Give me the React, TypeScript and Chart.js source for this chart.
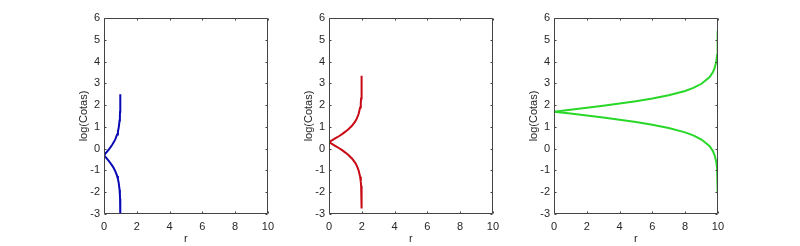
import React, { useEffect, useRef } from "react";
import { Chart, registerables } from "chart.js";

Chart.register(...registerables);

// Plot 1 (blue)
const r1 = [0, 0.1, 0.2, 0.3, 0.4, 0.5, 0.6, 0.7, 0.8, 0.85, 0.9, 0.95, 0.97, 0.98, 0.99, 0.995, 0.997];
const upper1 = [-0.30, -0.21, -0.12, -0.03, 0.07, 0.18, 0.30, 0.45, 0.65, 0.79, 0.98, 1.29, 1.52, 1.70, 2.00, 2.30, 2.50];
const lower1 = [-0.30, -0.39, -0.48, -0.57, -0.67, -0.78, -0.90, -1.05, -1.25, -1.39, -1.58, -1.89, -2.12, -2.30, -2.60, -2.90, -3.10];

// Plot 2 (red)
const r2 = [0, 0.2, 0.4, 0.6, 0.8, 1.0, 1.2, 1.4, 1.6, 1.7, 1.8, 1.9, 1.94, 1.96, 1.98, 1.99, 1.996];
const upper2 = [0.30, 0.39, 0.48, 0.57, 0.67, 0.78, 0.90, 1.05, 1.25, 1.39, 1.58, 1.89, 2.12, 2.30, 2.60, 2.90, 3.35];
const lower2 = [0.30, 0.21, 0.12, 0.03, -0.07, -0.18, -0.30, -0.45, -0.65, -0.79, -0.98, -1.29, -1.52, -1.70, -2.00, -2.30, -2.75];

// Plot 3 (green)
const r3 = [0, 1, 2, 3, 4, 5, 6, 7, 8, 8.5, 9, 9.5, 9.7, 9.8, 9.9, 9.95, 9.97, 9.98, 9.99, 9.996];
const upper3 = [1.70, 1.79, 1.88, 1.97, 2.07, 2.18, 2.30, 2.45, 2.65, 2.79, 2.98, 3.29, 3.52, 3.70, 4.00, 4.30, 4.52, 4.70, 5.00, 5.40];
const lower3 = [1.70, 1.61, 1.52, 1.43, 1.33, 1.22, 1.10, 0.95, 0.75, 0.61, 0.42, 0.11, -0.12, -0.30, -0.60, -0.90, -1.12, -1.30, -1.60, -2.00];

const xTicks = [0, 2, 4, 6, 8, 10];
const yTicks = [-3, -2, -1, 0, 1, 2, 3, 4, 5, 6];
const xLabel = "r";
const yLabel = "log(Cotas)";

const FONT = "'Liberation Sans', Arial, Helvetica, sans-serif";
const FS = 11;
const TEXT = "#262626";
const AXIS = "#444444";

const Y_W = 50; // px left of plot area inside canvas
const X_H = 32; // px below plot area
const PLOT_W = 170;
const RIGHT_PAD = 6;
const TOP = 18;

const framePlugin = {
  id: "frameTicks",
  afterDraw(chart: any) {
    const { ctx, chartArea } = chart;
    const { left, right, top, bottom } = chartArea;
    const xs = chart.scales.x;
    const ys = chart.scales.y;
    ctx.save();
    ctx.strokeStyle = AXIS;
    ctx.lineWidth = 1;
    const l = Math.round(left) + 0.5;
    const r = Math.round(right) - 0.5;
    const t = Math.round(top) + 0.5;
    const b = Math.round(bottom) - 0.5;
    ctx.beginPath();
    ctx.rect(l, t, r - l, b - t);
    const tl = 2;
    xTicks.forEach((v) => {
      const px = Math.round(xs.getPixelForValue(v)) + 0.5;
      ctx.moveTo(px, b);
      ctx.lineTo(px, b - tl);
      ctx.moveTo(px, t);
      ctx.lineTo(px, t + tl);
    });
    yTicks.forEach((v) => {
      const py = Math.round(ys.getPixelForValue(v)) + 0.5;
      ctx.moveTo(l, py);
      ctx.lineTo(l + tl, py);
      ctx.moveTo(r, py);
      ctx.lineTo(r - tl, py);
    });
    ctx.stroke();
    ctx.restore();
  },
};

function toPts(xs: number[], ys: number[]) {
  return xs.map((x, i) => ({ x, y: ys[i] }));
}

type SubProps = {
  left: number;
  rs: number[];
  up: number[];
  lo: number[];
  color: string;
};

function SubPlot({ left, rs, up, lo, color }: SubProps) {
  const ref = useRef<HTMLCanvasElement | null>(null);
  useEffect(() => {
    if (!ref.current) return;
    const ds = (data: number[]) => ({
      data: toPts(rs, data),
      showLine: true,
      borderColor: color,
      backgroundColor: color,
      borderWidth: 2,
      pointRadius: 0,
      tension: 0,
      fill: false,
      clip: 0 as any,
    });
    const chart = new Chart(ref.current, {
      type: "scatter",
      data: { datasets: [ds(up), ds(lo)] },
      plugins: [framePlugin],
      options: {
        animation: false,
        responsive: false,
        maintainAspectRatio: false,
        layout: { padding: { top: TOP, right: RIGHT_PAD, left: 0, bottom: 0 } },
        plugins: { legend: { display: false }, tooltip: { enabled: false } },
        scales: {
          x: {
            type: "linear",
            min: 0,
            max: 10,
            afterFit: (s: any) => {
              s.height = X_H;
            },
            afterBuildTicks: (s: any) => {
              s.ticks = xTicks.map((v) => ({ value: v }));
            },
            grid: { display: false, drawTicks: false },
            border: { display: false },
            ticks: {
              color: TEXT,
              font: { family: FONT, size: FS },
              padding: 6,
              maxRotation: 0,
              autoSkip: false,
            },
            title: {
              display: true,
              text: xLabel,
              color: TEXT,
              font: { family: FONT, size: FS },
              padding: { top: 0, bottom: 0 },
            },
          },
          y: {
            type: "linear",
            min: -3,
            max: 6,
            afterFit: (s: any) => {
              s.width = Y_W;
            },
            afterBuildTicks: (s: any) => {
              s.ticks = yTicks.map((v) => ({ value: v }));
            },
            grid: { display: false, drawTicks: false },
            border: { display: false },
            ticks: {
              color: TEXT,
              font: { family: FONT, size: FS },
              padding: 4,
              autoSkip: false,
            },
            title: {
              display: true,
              text: yLabel,
              color: TEXT,
              font: { family: FONT, size: FS },
              padding: { top: 23, bottom: 0 },
            },
          },
        },
      },
    });
    return () => chart.destroy();
  }, [rs, up, lo, color]);
  const w = Y_W + PLOT_W + RIGHT_PAD;
  return (
    <canvas
      ref={ref}
      width={w}
      height={246}
      style={{ position: "absolute", left: left - Y_W, top: 0, width: w, height: 246 }}
    />
  );
}

export default function App() {
  useEffect(() => {
    document.body.style.margin = "0";
  }, []);
  return (
    <div
      style={{
        position: "fixed",
        left: 0,
        top: 0,
        width: 800,
        height: 246,
        background: "#ffffff",
        overflow: "hidden",
      }}
    >
      <SubPlot left={104} rs={r1} up={upper1} lo={lower1} color="rgb(10,10,180)" />
      <SubPlot left={329} rs={r2} up={upper2} lo={lower2} color="rgb(200,10,20)" />
      <SubPlot left={554} rs={r3} up={upper3} lo={lower3} color="rgb(40,215,40)" />
    </div>
  );
}
